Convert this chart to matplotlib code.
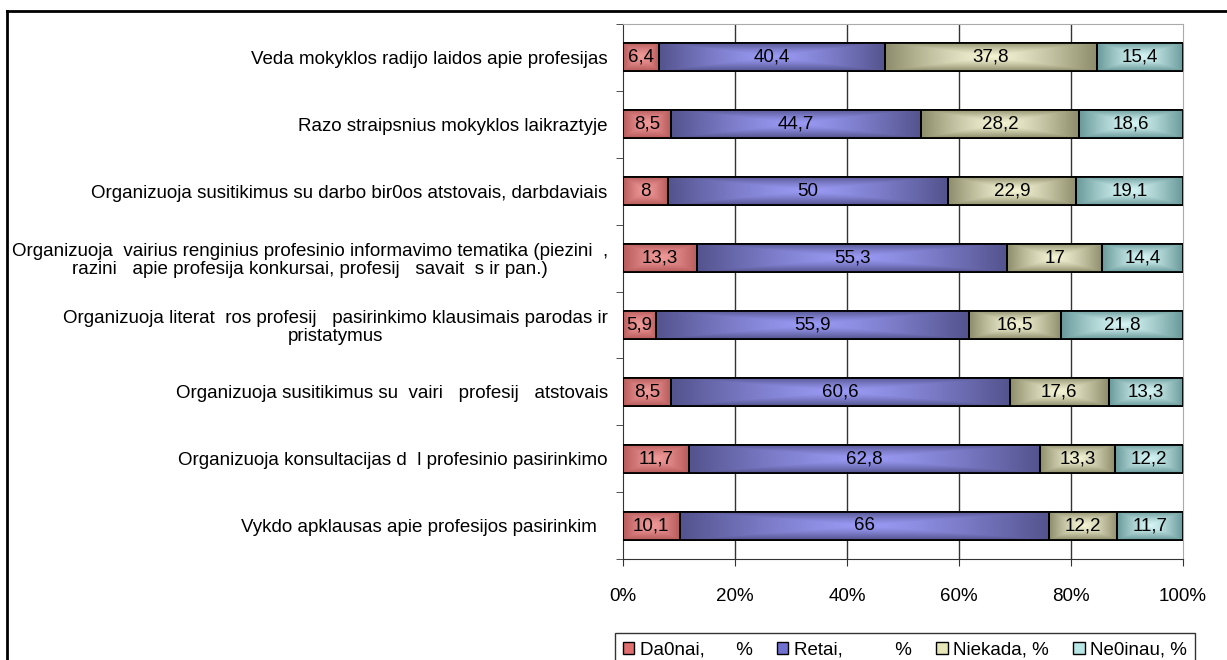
import numpy as np
import matplotlib
matplotlib.use("Agg")
import matplotlib.pyplot as plt
from matplotlib.lines import Line2D
from matplotlib.patches import Patch

plt.rcParams['font.family'] = ['Liberation Sans', 'DejaVu Sans']

# Duomenys (iš viršaus į apačią)
categories = [
    "Veda mokyklos radijo laidos apie profesijas",
    "Razo straipsnius mokyklos laikraztyje",
    "Organizuoja susitikimus su darbo bir0os atstovais, darbdaviais",
    "Organizuoja  vairius renginius profesinio informavimo tematika (piezini  ,\nrazini   apie profesija konkursai, profesij   savait  s ir pan.)",
    "Organizuoja literat  ros profesij   pasirinkimo klausimais parodas ir\npristatymus",
    "Organizuoja susitikimus su  vairi   profesij   atstovais",
    "Organizuoja konsultacijas d  l profesinio pasirinkimo",
    "Vykdo apklausas apie profesijos pasirinkim  ",
]
daznai = [6.4, 8.5, 8, 13.3, 5.9, 8.5, 11.7, 10.1]
retai = [40.4, 44.7, 50, 55.3, 55.9, 60.6, 62.8, 66]
niekada = [37.8, 28.2, 22.9, 17, 16.5, 17.6, 13.3, 12.2]
nezinau = [15.4, 18.6, 19.1, 14.4, 21.8, 13.3, 12.2, 11.7]
series_names = ["Da0nai,      %", "Retai,          %", "Niekada, %", "Ne0inau, %"]

# spalvos: kraštas, centras
edge_cols = ["#b85a5a", "#54548f", "#8e8e6c", "#6a9a9a"]
center_cols = ["#f09a9a", "#9a9af5", "#f5f5d6", "#d6f5f5"]
legend_cols = ["#e07070", "#7070d0", "#e6e6b8", "#b8e6e6"]

FS = 13.5

series = np.array([daznai, retai, niekada, nezinau])
totals = series.sum(axis=0)
pct = series / totals * 100

fig = plt.figure(figsize=(12.27, 6.6), dpi=100)
ax = fig.add_axes([623 / 1227, 1 - 559 / 660, 560 / 1227, 535 / 660])

y = np.arange(len(categories))
bar_h = 0.42


def gradient_img(c_edge, c_center, n=60):
    u = np.linspace(-1, 1, n)
    U, V = np.meshgrid(u, u)
    t = np.maximum(np.abs(U), np.abs(V)) ** 1.3
    ce = np.array(matplotlib.colors.to_rgb(c_edge))
    cc = np.array(matplotlib.colors.to_rgb(c_center))
    return cc * (1 - t[..., None]) + ce * t[..., None]


left = np.zeros(len(categories))
for k in range(4):
    bars = ax.barh(y, pct[k], left=left, height=bar_h, color=legend_cols[k],
                   edgecolor='black', linewidth=1.3, zorder=3)
    img = gradient_img(edge_cols[k], center_cols[k])
    for i, b in enumerate(bars):
        x0, w = left[i], pct[k][i]
        im = ax.imshow(img, extent=[x0, x0 + w, y[i] + bar_h / 2, y[i] - bar_h / 2],
                       aspect='auto', zorder=3.5, interpolation='bilinear')
        im.set_clip_path(b)
        ax.add_patch(plt.Rectangle((x0, y[i] - bar_h / 2), w, bar_h, fill=False,
                                   edgecolor='black', linewidth=1.3, zorder=4))
        val = series[k][i]
        txt = (f"{val:g}").replace('.', ',')
        ax.text(x0 + w / 2, y[i], txt, ha='center', va='center', fontsize=FS, zorder=5)
    left = left + pct[k]

ax.set_xlim(0, 100)
ax.set_ylim(len(categories) - 0.5, -0.5)
ax.set_xticks([0, 20, 40, 60, 80, 100])
ax.set_xticklabels(["0%", "20%", "40%", "60%", "80%", "100%"], fontsize=FS)
ax.tick_params(axis='x', direction='out', length=5, pad=16, color='#333333')
ax.set_yticks(y)
ax.set_yticklabels(categories, fontsize=FS, multialignment='center', linespacing=1.1)
ax.set_yticks(np.arange(-0.5, len(categories) + 0.5, 1), minor=True)
ax.tick_params(axis='y', which='major', length=0, pad=11)
ax.tick_params(axis='y', which='minor', length=5, direction='out', color='#333333')

for xv in [20, 40, 60, 80]:
    ax.axvline(xv, color='#333333', linewidth=1, zorder=1)

ax.spines['left'].set_color('#333333')
ax.spines['bottom'].set_color('#333333')
ax.spines['top'].set_color('#aaaaaa')
ax.spines['right'].set_color('#aaaaaa')

handles = [Patch(facecolor=legend_cols[k], edgecolor='black', linewidth=1) for k in range(4)]
leg = fig.legend(handles, series_names, loc='upper center', ncol=4,
                 bbox_to_anchor=(905 / 1227, 1 - 624 / 660), fontsize=FS,
                 fancybox=False, frameon=True, handlelength=0.6, handleheight=0.6,
                 handletextpad=0.3, columnspacing=1.3, borderpad=0.45)
leg.get_frame().set_edgecolor('black')
leg.get_frame().set_linewidth(1)

# rėmelis aplink diagramą
fig.add_artist(Line2D([7 / 1227, 1.0], [1 - 11 / 660, 1 - 11 / 660], color='black', linewidth=2,
                      transform=fig.transFigure))
fig.add_artist(Line2D([7 / 1227, 7 / 1227], [0, 1 - 11 / 660], color='black', linewidth=2,
                      transform=fig.transFigure))

fig.savefig("out.png", dpi=100)
